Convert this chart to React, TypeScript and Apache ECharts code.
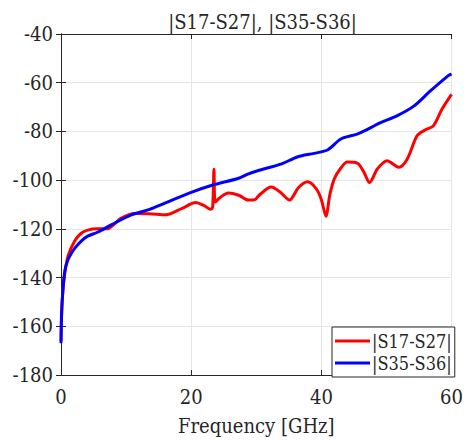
import React, { useEffect, useRef } from "react";
import * as echarts from "echarts";

const titleText = "|S17-S27|, |S35-S36|";
const xName = "Frequency [GHz]";
const seriesNames = ["|S17-S27|", "|S35-S36|"];

const redFreq = [0, 0.1, 0.3, 0.6, 1.1, 2.1, 3.1, 4.1, 5.6, 7.1, 8.2, 9.2, 11.3, 13.6, 16.1, 18.6, 20.7, 22, 23, 23.3, 23.5, 23.7, 24.5, 25.7, 27.3, 28.8, 29.8, 30.5, 32.3, 33.7, 35.1, 36.5, 37.9, 39.2, 40, 40.7, 41.3, 42, 43, 44, 45.5, 46.5, 47.4, 48.6, 50.1, 51.9, 53.2, 54.7, 56, 57.2, 58.5, 60];
const redVals = [-166, -155, -145, -138, -131, -125, -121.8, -120.5, -120, -120, -118, -115.7, -113.7, -113.8, -114.2, -111.6, -109.2, -110.5, -112, -111, -95.5, -109, -107, -105.3, -106.2, -108.2, -108, -106, -102.8, -105, -108.2, -103, -100.7, -103.5, -108, -114.8, -106, -99.4, -95, -92.6, -93, -96.5, -101, -95.4, -92, -94.7, -91.3, -81.8, -79.3, -77.7, -71, -64.8];

const blueFreq = [0, 0.1, 0.3, 0.6, 1.1, 1.6, 2.1, 3.1, 4.1, 5.6, 7.7, 10.8, 13.6, 15.8, 20, 23.2, 27.3, 28.8, 31.3, 33.9, 36.4, 38.9, 41, 43, 45.5, 46.6, 49.1, 51.6, 54.2, 56.7, 59.5, 60];
const blueVals = [-167, -154, -145, -137, -132.5, -130, -128, -125, -123, -121.4, -118.4, -114.3, -112, -109.6, -105, -102.1, -99.2, -97.4, -95.3, -93.3, -90.4, -89, -87.5, -83.1, -81.1, -79.8, -76.4, -73.6, -69.6, -63.5, -57.1, -56.5];

const xTicks = { min: 0, max: 60, interval: 20 };
const yTicks = { min: -180, max: -40, interval: 20 };

const FONT = "DejaVu Serif Condensed";
const TXT = "#262626";

export default function App() {
  const ref = useRef<HTMLDivElement>(null);
  useEffect(() => {
    if (!ref.current) return;
    const chart = echarts.init(ref.current, undefined, { renderer: "svg" });
    const axisLine = { show: true, lineStyle: { color: TXT, width: 1 } };
    const tick = { show: true, inside: true, length: 5, lineStyle: { color: TXT } };
    const txt = (size: number) => ({ fontFamily: FONT, fontSize: size, color: TXT, fontWeight: "normal" as const });
    chart.setOption({
      animation: false,
      backgroundColor: "#ffffff",
      textStyle: { fontFamily: FONT },
      title: {
        text: titleText,
        left: 257.5,
        textAlign: "center",
        top: 7,
        textStyle: txt(20),
      },
      grid: { left: 61, right: 11.5, top: 34, bottom: 62.7, containLabel: false },
      legend: {
        data: seriesNames,
        orient: "vertical",
        left: 332,
        top: 327,
        padding: [5, 3, 5, 3],
        itemGap: 4,
        itemWidth: 35,
        itemHeight: 3,
        icon: "rect",
        backgroundColor: "#ffffff",
        borderColor: TXT,
        borderWidth: 1,
        borderRadius: 0,
        textStyle: { ...txt(18), padding: [0, 0, 0, -3] },
      },
      xAxis: [
        {
          type: "value",
          ...xTicks,
          name: xName,
          nameLocation: "middle",
          nameGap: 41,
          nameTextStyle: txt(20),
          axisLine,
          axisTick: tick,
          axisLabel: { ...txt(20), margin: 12 },
          splitLine: { show: true, lineStyle: { color: "#e5e5e5", width: 1 } },
        },
        {
          type: "value",
          ...xTicks,
          position: "top",
          axisLine,
          axisTick: tick,
          axisLabel: { show: false },
          splitLine: { show: false },
        },
      ],
      yAxis: [
        {
          type: "value",
          ...yTicks,
          axisLine,
          axisTick: tick,
          axisLabel: { ...txt(20), margin: 8 },
          splitLine: { show: true, lineStyle: { color: "#e5e5e5", width: 1 } },
        },
        {
          type: "value",
          ...yTicks,
          position: "right",
          axisLine,
          axisTick: tick,
          axisLabel: { show: false },
          splitLine: { show: false },
        },
      ],
      series: [
        {
          name: seriesNames[0],
          type: "line",
          data: redFreq.map((f, i) => [f, redVals[i]]),
          showSymbol: false,
          smooth: 0.3,
          color: "#ff0000",
          lineStyle: { color: "#ff0000", width: 3 },
          z: 2,
        },
        {
          name: seriesNames[1],
          type: "line",
          data: blueFreq.map((f, i) => [f, blueVals[i]]),
          showSymbol: false,
          smooth: 0.3,
          color: "#0000ff",
          lineStyle: { color: "#0000ff", width: 3 },
          z: 3,
        },
      ],
    });
    return () => chart.dispose();
  }, []);
  return <div ref={ref} style={{ width: 466, height: 441, position: "absolute", left: 0, top: 0 }} />;
}
